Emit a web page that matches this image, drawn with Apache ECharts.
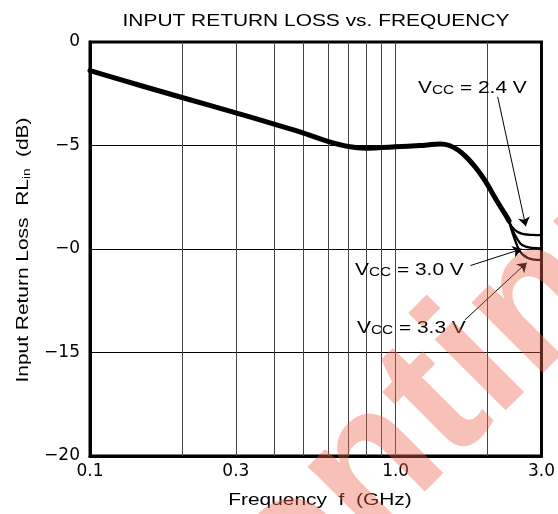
<!DOCTYPE html>
<html>
<head>
<meta charset="utf-8">
<script src="https://cdn.jsdelivr.net/npm/echarts@6/dist/echarts.min.js"></script>
<style>
  html, body { margin: 0; padding: 0; background: #fff; }
  #chart { width: 558px; height: 514px; }
</style>
</head>
<body>
<div id="chart"></div>
<script>
// common curve (all Vcc) from 0.1 GHz until the curves split
const freqMain = [0.1, 0.15, 0.2, 0.3, 0.4, 0.5, 0.6, 0.7, 0.8, 0.9, 1.0, 1.2, 1.4, 1.5, 1.6, 1.7, 1.8, 1.9, 2.0, 2.1, 2.2, 2.3, 2.35]
const rlMain = [-1.38, -2.15, -2.68, -3.42, -3.97, -4.4, -4.8, -5.05, -5.13, -5.1, -5.06, -5.0, -4.93, -5.0, -5.22, -5.55, -5.95, -6.4, -6.9, -7.45, -7.95, -8.4, -8.65]

// the three branches near 3 GHz
const freqBranch = [2.35, 2.4, 2.5, 2.6, 2.8, 3.0]
const rl24 = [-8.65, -8.92, -9.17, -9.27, -9.32, -9.33]
const rl30 = [-8.65, -9.02, -9.52, -9.82, -9.95, -9.97]
const rl33 = [-8.65, -9.12, -9.85, -10.26, -10.5, -10.53]

const xGridValues = [0.2, 0.3, 0.4, 0.5, 0.6, 0.7, 0.8, 0.9, 1.0, 2.0]
const xTickValues = [0.1, 0.3, 1.0, 3.0]
const xTickLabels = ['0.1', '0.3', '1.0', '3.0']
const yTickValues = [-20, -15, -10, -5, 0]
const yTickLabels = ['−20', '−15', '−0', '−5', '0']

// annotation arrows: [from, to] in (GHz, dB)
const arrow24 = [[2.157, -2.65], [2.666, -8.9]]
const arrow30 = [[1.757, -10.8], [2.585, -10.0]]
const arrow33 = [[1.683, -13.43], [2.685, -10.66]]

const FONT = '"Liberation Sans", Arial, sans-serif'
const TICK_FONT = '"DejaVu Sans", sans-serif'
const SX = 1.23

const chart = echarts.init(document.getElementById('chart'))

const zip = (xs, ys) => xs.map((x, i) => [x, ys[i]])

const pickLabel = (values, labels) => (v) => {
  const i = values.findIndex(t => Math.abs(t - v) < Math.abs(t) * 1e-6 + 1e-9)
  return i < 0 ? '' : labels[i]
}

const vccText = (v) => '{v|V}{c|CC}{v| = ' + v + ' V}'
const vccRich = {
  v: { fontFamily: FONT, fontSize: 17, color: '#000', verticalAlign: 'bottom', lineHeight: 20 },
  c: { fontFamily: FONT, fontSize: 12.5, color: '#000', verticalAlign: 'bottom', lineHeight: 20 }
}

const label = (x, y, v) => ({
  type: 'text', x: x, y: y, scaleX: SX, z: 50,
  style: { text: vccText(v), x: 0, y: 0, align: 'left', verticalAlign: 'middle', rich: vccRich }
})

const arrowLine = (a) => [{ coord: a[0], symbol: 'none' }, { coord: a[1], symbol: 'arrow' }]

const branch = (ys) => ({
  type: 'line', data: zip(freqBranch, ys), smooth: 0.45, showSymbol: false, z: 4,
  lineStyle: { color: '#000', width: 2.3 }
})

const option = {
  animation: false,
  backgroundColor: '#fff',
  grid: { left: 90, top: 42, width: 452, height: 414, show: true, borderColor: '#000', borderWidth: 3 },
  xAxis: {
    type: 'log', logBase: 10, min: 0.1, max: 3.0,
    axisLine: { show: true, onZero: false, lineStyle: { color: '#000', width: 3 } },
    axisTick: { show: false },
    splitLine: { show: false },
    minorSplitLine: { show: false },
    axisLabel: {
      customValues: xTickValues, formatter: pickLabel(xTickValues, xTickLabels),
      color: '#000', fontFamily: TICK_FONT, fontSize: 17, margin: 7
    }
  },
  yAxis: {
    type: 'value', min: -20, max: 0, interval: 5,
    axisLine: { show: true, lineStyle: { color: '#000', width: 3 } },
    axisTick: { show: false },
    splitLine: { show: true, lineStyle: { color: '#000', width: 1 } },
    axisLabel: {
      formatter: pickLabel(yTickValues, yTickLabels),
      color: '#000', fontFamily: TICK_FONT, fontSize: 17, margin: 10
    }
  },
  series: [
    {
      // vertical log grid lines
      type: 'line', data: [], z: 1, silent: true,
      markLine: {
        silent: true, symbol: 'none', animation: false,
        label: { show: false },
        lineStyle: { color: '#444', width: 1, type: 'solid' },
        data: xGridValues.map(v => ({ xAxis: v }))
      }
    },
    {
      // annotation arrows
      type: 'line', data: [], z: 6, silent: true,
      markLine: {
        silent: true, animation: false, symbolSize: 9,
        label: { show: false },
        lineStyle: { color: '#000', width: 1, type: 'solid' },
        data: [arrowLine(arrow24), arrowLine(arrow30), arrowLine(arrow33)]
      }
    },
    {
      type: 'line', data: zip(freqMain, rlMain), smooth: 0.3, showSymbol: false, z: 5,
      lineStyle: { color: '#000', width: 5, cap: 'round', join: 'round' }
    },
    branch(rl24),
    branch(rl30),
    branch(rl33)
  ],
  graphic: [
    {
      type: 'text', x: 316, y: 21, scaleX: SX, z: 50,
      style: { text: 'INPUT RETURN LOSS vs. FREQUENCY', x: 0, y: 0, align: 'center', verticalAlign: 'middle',
        font: '17px ' + FONT, fill: '#000' }
    },
    {
      type: 'text', x: 320, y: 500, scaleX: SX, z: 50,
      style: { text: 'Frequency  f  (GHz)', x: 0, y: 0, align: 'center', verticalAlign: 'middle',
        font: '17px ' + FONT, fill: '#000' }
    },
    {
      type: 'text', x: 22, y: 250, scaleX: SX, rotation: Math.PI / 2, z: 50,
      style: {
        text: '{a|Input Return Loss  RL}{s|in}{a|  (dB)}', x: 0, y: 0, align: 'center', verticalAlign: 'middle',
        rich: {
          a: { fontFamily: FONT, fontSize: 17, color: '#000', verticalAlign: 'bottom', lineHeight: 20 },
          s: { fontFamily: FONT, fontSize: 11, color: '#000', verticalAlign: 'bottom', lineHeight: 18 }
        }
      }
    },
    label(418, 87, '2.4'),
    label(355, 269, '3.0'),
    label(357, 327, '3.3'),
    {
      // watermark
      type: 'text', x: 392, y: 450, rotation: Math.PI / 4, z: 100, silent: true,
      style: { text: 'Discontinued', x: 0, y: 0, align: 'center', verticalAlign: 'middle',
        font: 'bold 190px ' + FONT, fill: 'rgba(236,100,75,0.4)' }
    }
  ]
}

chart.setOption(option)
</script>
</body>
</html>
